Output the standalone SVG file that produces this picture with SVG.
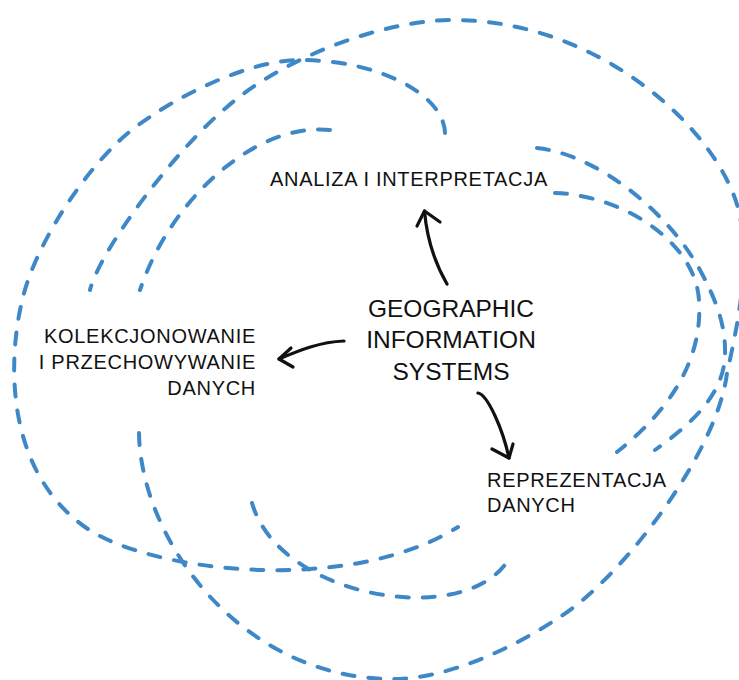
<svg xmlns="http://www.w3.org/2000/svg" width="739" height="680" viewBox="0 0 739 680">
<style>
.dash{fill:none;stroke:#3f88c8;stroke-width:4;stroke-linecap:round;stroke-dasharray:12 14}
.arr{fill:none;stroke:#111;stroke-width:3.2;stroke-linecap:round;stroke-linejoin:round}
.lbl{font-family:"Liberation Sans",Arial,sans-serif;font-size:20px;letter-spacing:0.7px;fill:#111}
.ctr{font-family:"Liberation Sans",Arial,sans-serif;font-size:24.5px;fill:#111;text-anchor:middle}
</style>
<rect width="739" height="680" fill="#fff"/>
<g id="orbits">
<path class="dash" d="M139,433 C140,500 180,580 247,630 C290,662 340,679 393,679 C446,679 510,650 560,617 C625,575 718,450 727,373 C737,328 752,260 738,208 C717,130 600,20 453,20 C380,20 280,60 227,107 C175,150 100,250 90,290"/>
<path class="dash" d="M445,133 C444,95 380,60 300,60 C240,60 150,110 117,143 C80,178 36,245 23,297 C7,360 5,470 85,527 C150,573 350,595 458,527"/>
<path class="dash" d="M330,130 C255,122 170,200 140,290"/>
<path class="dash" d="M252,503 C280,600 470,630 510,557"/>
<path class="dash" d="M537,148 C600,155 670,215 700,270 C716,300 726,325 725,355 C724,395 690,425 655,450"/>
<path class="dash" d="M555,193 C620,195 695,240 699,300 C703,360 670,410 617,452"/>
</g>
<g id="connectors">
<path class="arr" d="M447,284 C436,265 427,240 424.5,211"/>
<path class="arr" d="M417,226 L424.5,211 L440,222"/>
<path class="arr" d="M344,341 C320,342 300,350 279,359"/>
<path class="arr" d="M291,348 L279,359 L293,367"/>
<path class="arr" d="M478,393 C488,395 503,430 509,458"/>
<path class="arr" d="M492,449 L509,458 L513,444"/>
</g>
<g id="node-gis">
<text class="ctr" x="451" y="317">GEOGRAPHIC</text>
<text class="ctr" x="451" y="348">INFORMATION</text>
<text class="ctr" x="451" y="380">SYSTEMS</text>
</g>
<g id="node-analiza">
<text class="lbl" x="270" y="186">ANALIZA I INTERPRETACJA</text>
</g>
<g id="node-kolekcjonowanie">
<text class="lbl" x="256" y="343" text-anchor="end">KOLEKCJONOWANIE</text>
<text class="lbl" x="256" y="369" text-anchor="end">I PRZECHOWYWANIE</text>
<text class="lbl" x="256" y="395" text-anchor="end">DANYCH</text>
</g>
<g id="node-reprezentacja">
<text class="lbl" x="487" y="487">REPREZENTACJA</text>
<text class="lbl" x="487" y="512">DANYCH</text>
</g>
</svg>
